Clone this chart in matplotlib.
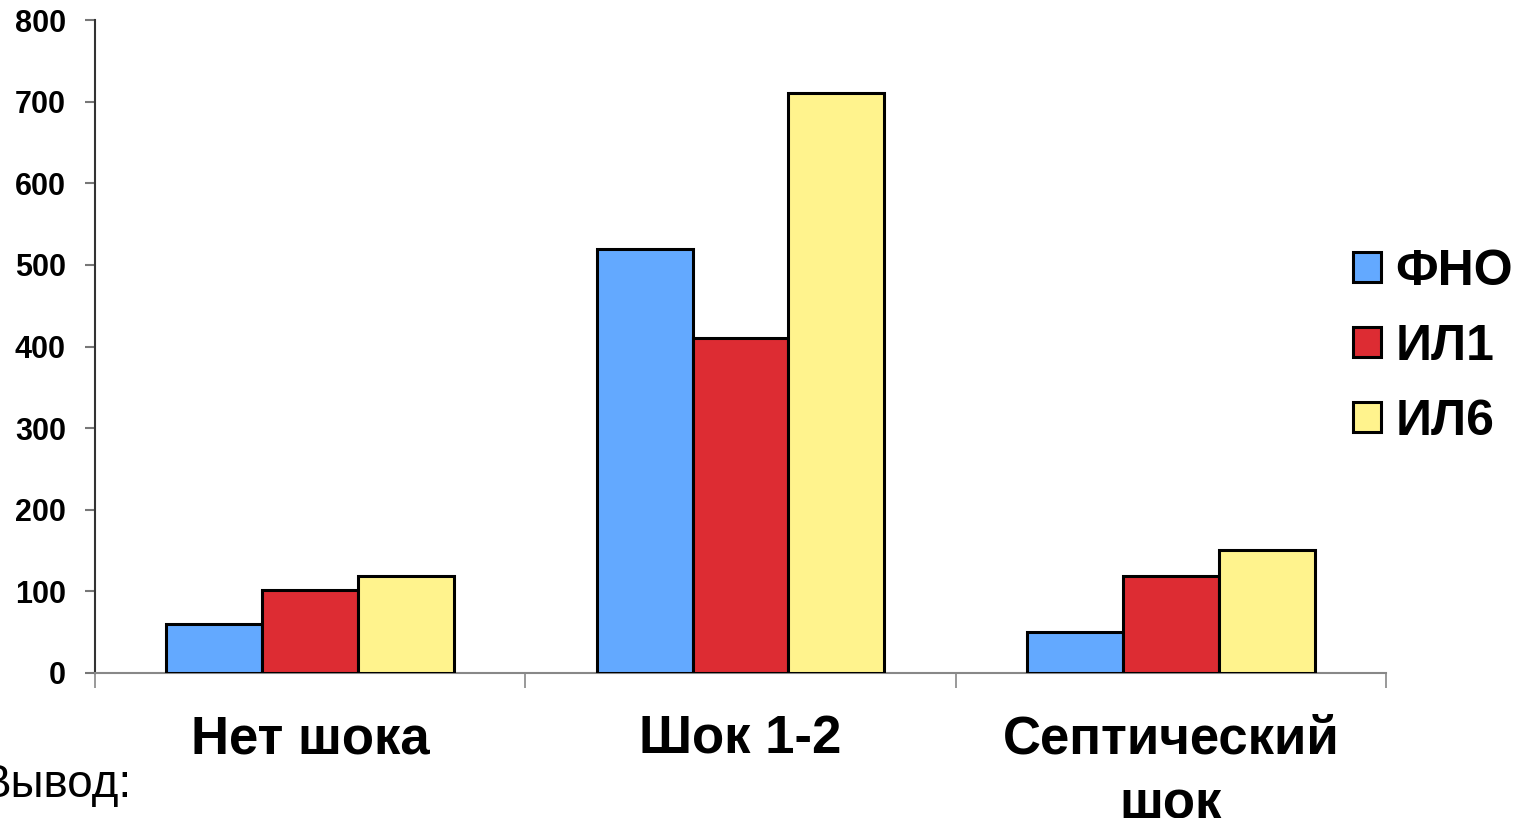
import matplotlib
matplotlib.use("Agg")
import matplotlib.pyplot as plt
from matplotlib.patches import Patch
import numpy as np

plt.rcParams['font.family'] = ['Liberation Sans', 'DejaVu Sans']

categories = ['Нет шока', 'Шок 1-2', 'Септический\nшок']
series = ['ФНО', 'ИЛ1', 'ИЛ6']
tnf = [60, 520, 50]
il1 = [102, 410, 119]
il6 = [119, 710, 151]
values = [tnf, il1, il6]
colors = ['#63a9ff', '#dd2c33', '#fff38d']
y_ticks = [0, 100, 200, 300, 400, 500, 600, 700, 800]

fig = plt.figure(figsize=(15.26, 8.18), dpi=100)
ax = fig.add_axes([95 / 1526, 145 / 818, 1291 / 1526, 653 / 818])

x = np.arange(len(categories))
width = 0.223
for i, (vals, col, name) in enumerate(zip(values, colors, series)):
    ax.bar(x + (i - 1) * width, vals, width, color=col, edgecolor='black',
           linewidth=2.2, label=name, zorder=3)

ax.set_xlim(-0.5, len(categories) - 0.5)
ax.set_ylim(0, 800)

# y axis
ax.set_yticks(y_ticks)
ax.set_yticklabels([str(t) for t in y_ticks], fontsize=22, fontweight='bold')
ax.tick_params(axis='y', direction='out', length=7, width=1.5, color='#777777', pad=14)

# x axis: boundary ticks, labels centred on categories
ax.set_xticks(np.arange(len(categories) + 1) - 0.5)
ax.set_xticklabels([])
ax.tick_params(axis='x', which='major', direction='out', length=11, width=1.2, color='#888888')
ax.set_xticks(x, minor=True)
ax.set_xticklabels(categories, minor=True, fontsize=38, fontweight='bold', linespacing=1.38)
ax.tick_params(axis='x', which='minor', length=0, pad=30)

for s in ['top', 'right']:
    ax.spines[s].set_visible(False)
ax.spines['left'].set_color('#333333')
ax.spines['left'].set_linewidth(1.5)
ax.spines['bottom'].set_color('#888888')
ax.spines['bottom'].set_linewidth(1.5)

handles = [Patch(facecolor=c, edgecolor='black', linewidth=2.2) for c in colors]
fig.legend(handles, series, loc='center left', bbox_to_anchor=(1308 / 1526, 1 - 347 / 818),
           frameon=False, prop={'size': 36, 'weight': 'bold'},
           handlelength=0.55, handleheight=0.55, handletextpad=0.3, labelspacing=0.58)

fig.text(-20 / 1526, 21 / 818, 'Вывод:', fontsize=33, ha='left', va='baseline')

fig.savefig('out.png', dpi=100)
